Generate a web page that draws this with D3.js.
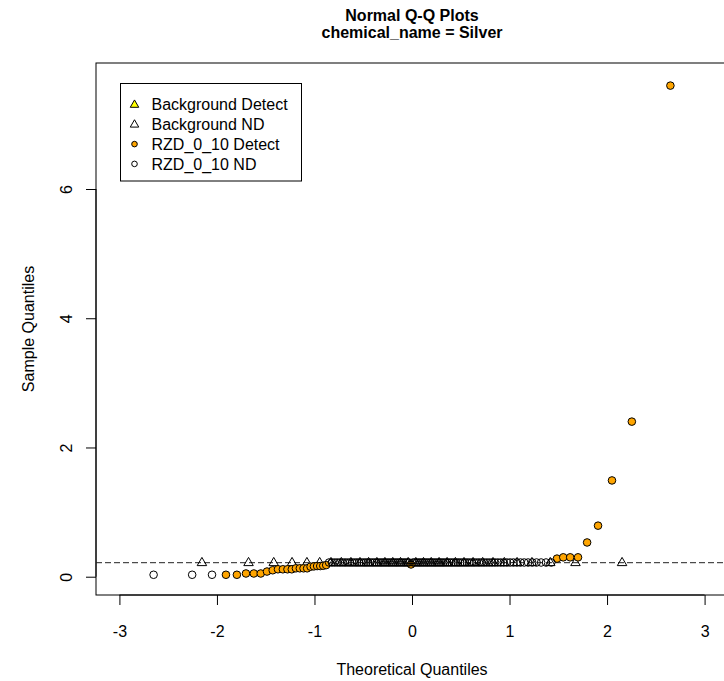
<!DOCTYPE html>
<html><head><meta charset="utf-8">
<script src="https://cdn.jsdelivr.net/npm/d3@7"></script>
<style>
body{margin:0;background:#fff}
svg{display:block}
text{font-family:"Liberation Sans",Arial,sans-serif;fill:#000}
</style>
</head><body>
<svg id="chart" width="724" height="681"></svg>
<script>
// ---------------- data ----------------
const titleLines = ["Normal Q-Q Plots", "chemical_name = Silver"];
const xLabel = "Theoretical Quantiles";
const yLabel = "Sample Quantiles";
const xTicks = [-3, -2, -1, 0, 1, 2, 3];
const yTicks = [0, 2, 4, 6];
const legendLabels = ["Background Detect", "Background ND", "RZD_0_10 Detect", "RZD_0_10 ND"];
const refLineValue = 0.217;

// Background group (sorted sample values), all non-detects
const bgDetectValues = [];
const bgNDValues = [
  0.22, 0.22, 0.22, 0.22, 0.22, 0.22, 0.22, 0.22,
  0.22, 0.22, 0.22, 0.22, 0.22, 0.22, 0.22, 0.22,
  0.22, 0.22, 0.22, 0.22, 0.22, 0.22, 0.22, 0.22,
  0.22, 0.22, 0.22, 0.22, 0.22, 0.22, 0.22, 0.22
];

// RZD_0_10 group, values in plotting (rank) order, with detect flag (D) / non-detect (N)
const rzdValues = [
  0.03, 0.03, 0.03,
  0.03, 0.03, 0.05, 0.05, 0.05, 0.08, 0.10, 0.115, 0.115, 0.115, 0.115,
  0.13, 0.13, 0.13, 0.13, 0.155, 0.16, 0.165, 0.165, 0.17, 0.18,
  0.22, 0.22, 0.22, 0.22, 0.22, 0.22, 0.22, 0.22, 0.22, 0.22,
  0.22, 0.22, 0.22, 0.22, 0.22, 0.22, 0.22, 0.22, 0.22, 0.22,
  0.22, 0.22, 0.22, 0.22, 0.22, 0.22, 0.22, 0.22, 0.22, 0.22,
  0.22, 0.22, 0.22, 0.22, 0.22, 0.22, 0.22,
  0.19,
  0.22, 0.22, 0.22, 0.22, 0.22, 0.22, 0.22, 0.22, 0.22, 0.22,
  0.22, 0.22, 0.22, 0.22, 0.22, 0.22, 0.22, 0.22, 0.22, 0.22,
  0.22, 0.22, 0.22, 0.22, 0.22, 0.22, 0.22, 0.22, 0.22, 0.22,
  0.22, 0.22, 0.22, 0.22, 0.22, 0.22, 0.22, 0.22, 0.22, 0.22,
  0.22, 0.22, 0.22, 0.22, 0.22, 0.22, 0.22, 0.22, 0.22, 0.22,
  0.22, 0.22, 0.22,
  0.28, 0.30, 0.30, 0.30, 0.53, 0.79, 1.49, 2.40, 7.60
];
const rzdStatus = [
  "N","N","N",
  "D","D","D","D","D","D","D","D","D","D","D",
  "D","D","D","D","D","D","D","D","D","D",
  "N","N","N","N","N","N","N","N","N","N",
  "N","N","N","N","N","N","N","N","N","N",
  "N","N","N","N","N","N","N","N","N","N",
  "N","N","N","N","N","N","N",
  "D",
  "N","N","N","N","N","N","N","N","N","N",
  "N","N","N","N","N","N","N","N","N","N",
  "N","N","N","N","N","N","N","N","N","N",
  "N","N","N","N","N","N","N","N","N","N",
  "N","N","N","N","N","N","N","N","N","N",
  "N","N","N",
  "D","D","D","D","D","D","D","D","D"
];

// ---------------- helpers ----------------
// inverse standard normal CDF (Acklam)
function qnorm(p) {
  const a = [-39.69683028665376, 220.9460984245205, -275.9285104469687, 138.3577518672690, -30.66479806614716, 2.506628277459239];
  const b = [-54.47609879822406, 161.5858368580409, -155.6989798598866, 66.80131188771972, -13.28068155288572];
  const c = [-0.007784894002430293, -0.3223964580411365, -2.400758277161838, -2.549732539343734, 4.374664141464968, 2.938163982698783];
  const d = [0.007784695709041462, 0.3224671290700398, 2.445134137142996, 3.754408661907416];
  const pl = 0.02425, ph = 1 - pl;
  let q, r;
  if (p < pl) {
    q = Math.sqrt(-2 * Math.log(p));
    return (((((c[0]*q+c[1])*q+c[2])*q+c[3])*q+c[4])*q+c[5]) / ((((d[0]*q+d[1])*q+d[2])*q+d[3])*q+1);
  } else if (p <= ph) {
    q = p - 0.5; r = q*q;
    return (((((a[0]*r+a[1])*r+a[2])*r+a[3])*r+a[4])*r+a[5])*q / (((((b[0]*r+b[1])*r+b[2])*r+b[3])*r+b[4])*r+1);
  } else {
    q = Math.sqrt(-2 * Math.log(1 - p));
    return -(((((c[0]*q+c[1])*q+c[2])*q+c[3])*q+c[4])*q+c[5]) / ((((d[0]*q+d[1])*q+d[2])*q+d[3])*q+1);
  }
}
// R's ppoints
function ppoints(n) {
  const a = n <= 10 ? 3/8 : 0.5;
  return d3.range(1, n + 1).map(i => (i - a) / (n + 1 - 2*a));
}

// build point sets
const rzdTheo = ppoints(rzdValues.length).map(qnorm);
const rzdPoints = rzdValues.map((v, i) => ({x: rzdTheo[i], y: v, s: rzdStatus[i]}));
const bgAll = bgDetectValues.map(v => ({y: v, s: "D"})).concat(bgNDValues.map(v => ({y: v, s: "N"})))
  .sort((p, q) => p.y - q.y);
const bgTheo = ppoints(bgAll.length).map(qnorm);
bgAll.forEach((p, i) => p.x = bgTheo[i]);

// ---------------- layout ----------------
const plot = {left: 96, right: 728, top: 63, bottom: 595};
const svg = d3.select("#chart");
const x = d3.scaleLinear().domain([-3.24, 3.24]).range([plot.left, plot.right]);
const y = d3.scaleLinear().domain([-0.283, 7.95]).range([plot.bottom, plot.top]);

const FS = 16;

// title
svg.append("text").attr("x", 412).attr("y", 20.5).attr("text-anchor", "middle")
  .attr("font-size", FS).attr("font-weight", "bold").text(titleLines[0]);
svg.append("text").attr("x", 412).attr("y", 37.5).attr("text-anchor", "middle")
  .attr("font-size", FS).attr("font-weight", "bold").text(titleLines[1]);

// axes
const xAxis = d3.axisBottom(x).tickValues(xTicks).tickSize(10).tickPadding(0).tickFormat(d3.format("d"));
const gx = svg.append("g").attr("transform", `translate(0,${plot.bottom})`).call(xAxis);
gx.select(".domain").attr("d", `M${x(xTicks[0])},0H${x(xTicks[xTicks.length-1])}`).attr("stroke", "#000");
gx.selectAll(".tick line").attr("stroke", "#000");
gx.selectAll(".tick text").attr("font-size", FS).attr("font-family", "Liberation Sans, Arial, sans-serif")
  .attr("fill", "#000").attr("dy", null).attr("y", 42).attr("dominant-baseline", "auto")
  .text(d => d < 0 ? "-" + Math.abs(d) : String(d));

const yAxis = d3.axisLeft(y).tickValues(yTicks).tickSize(10).tickFormat(d3.format("d"));
const gy = svg.append("g").attr("transform", `translate(${plot.left},0)`).call(yAxis);
gy.select(".domain").attr("d", `M0,${y(yTicks[0])}V${y(yTicks[yTicks.length-1])}`).attr("stroke", "#000");
gy.selectAll(".tick line").attr("stroke", "#000");
gy.selectAll(".tick text").attr("font-size", FS).attr("font-family", "Liberation Sans, Arial, sans-serif")
  .attr("fill", "#000").attr("x", null).attr("dy", null).attr("text-anchor", "middle")
  .attr("transform", "translate(-24,0) rotate(-90)");

// axis labels
svg.append("text").attr("x", 412).attr("y", 675).attr("text-anchor", "middle")
  .attr("font-size", FS).text(xLabel);
svg.append("text").attr("transform", `translate(34,${(plot.top + plot.bottom) / 2}) rotate(-90)`)
  .attr("text-anchor", "middle").attr("font-size", FS).text(yLabel);

// plot box
svg.append("rect").attr("x", plot.left).attr("y", plot.top)
  .attr("width", plot.right - plot.left).attr("height", plot.bottom - plot.top)
  .attr("fill", "none").attr("stroke", "#000").attr("stroke-width", 1);

// clip for data
svg.append("clipPath").attr("id", "clip").append("rect")
  .attr("x", plot.left).attr("y", plot.top)
  .attr("width", plot.right - plot.left).attr("height", plot.bottom - plot.top);
const g = svg.append("g").attr("clip-path", "url(#clip)");

// reference line
g.append("line").attr("x1", plot.left).attr("x2", plot.right)
  .attr("y1", y(refLineValue)).attr("y2", y(refLineValue))
  .attr("stroke", "#222").attr("stroke-width", 1).attr("stroke-dasharray", "6,3");

// symbols
const triPath = (cx, cy, s) => {
  const h = s * 0.866;
  return `M${cx},${cy - h*0.62}L${cx + s/2},${cy + h*0.38}L${cx - s/2},${cy + h*0.38}Z`;
};

// Background (triangles)
g.selectAll("path.bg").data(bgAll).join("path").attr("class", "bg")
  .attr("d", d => triPath(x(d.x), y(d.y), 9.5))
  .attr("fill", d => d.s === "D" ? "#FFFF00" : "none")
  .attr("stroke", "#000").attr("stroke-width", 1);

// RZD (circles): detects first, then non-detects on top
const rzdOrdered = rzdPoints.filter(d => d.s === "D").concat(rzdPoints.filter(d => d.s === "N"));
g.selectAll("circle.rzd").data(rzdOrdered).join("circle").attr("class", "rzd")
  .attr("cx", d => x(d.x)).attr("cy", d => y(d.y)).attr("r", 3.8)
  .attr("fill", d => d.s === "D" ? "#FFA500" : "none")
  .attr("stroke", "#000").attr("stroke-width", 1);

// legend
const leg = svg.append("g");
leg.append("rect").attr("x", 120.5).attr("y", 83.5).attr("width", 181).attr("height", 97.5)
  .attr("fill", "#fff").attr("stroke", "#000").attr("stroke-width", 1);
const rowY = [104.5, 124.3, 144.1, 163.9];
legendLabels.forEach((lab, i) => {
  const cy = rowY[i], cx = 134.5;
  if (i < 2) {
    leg.append("path").attr("d", triPath(cx, cy, 8.5))
      .attr("fill", i === 0 ? "#FFFF00" : "none").attr("stroke", "#000");
  } else {
    leg.append("circle").attr("cx", cx).attr("cy", cy).attr("r", 2.8)
      .attr("fill", i === 2 ? "#FFA500" : "none").attr("stroke", "#000");
  }
  leg.append("text").attr("x", 151.5).attr("y", cy + 5.6).attr("font-size", FS).text(lab);
});
</script>
</body></html>
